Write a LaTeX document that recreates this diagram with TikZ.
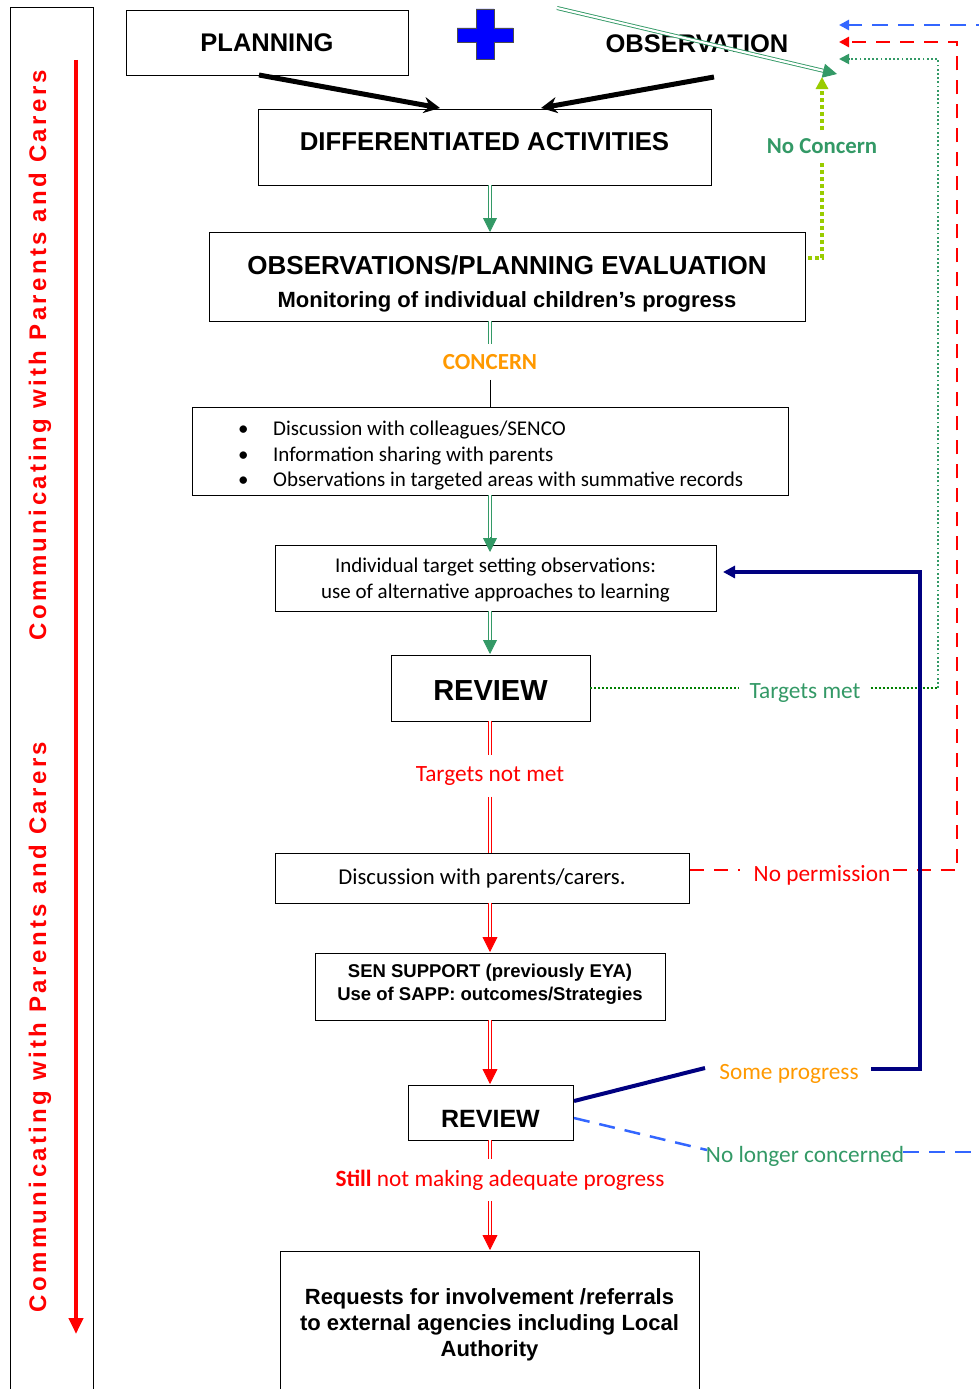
\documentclass[tikz,border=0pt]{standalone}
\usepackage{fontspec}
\setmainfont{Liberation Sans}
\newfontfamily\calfont{Carlito}
\newfontfamily\sidefont[LetterSpace=14]{Liberation Sans}
\usetikzlibrary{arrows.meta,calc}
\definecolor{sgreen}{RGB}{51,153,102}
\definecolor{dgreen}{RGB}{0,128,0}
\definecolor{ygreen}{RGB}{153,204,0}
\definecolor{orng}{RGB}{255,153,0}
\definecolor{navyb}{RGB}{0,0,128}
\definecolor{bluedash}{RGB}{51,102,255}
\definecolor{pureblue}{RGB}{0,0,255}
\tikzset{
 box/.style={draw, line width=0.8pt, inner sep=2pt, align=center, outer sep=0pt},
 txt/.style={inner sep=0pt, align=center},
 lbl/.style={inner xsep=3pt, inner ysep=2pt, font=\calfont\fontsize{23.3}{27}\selectfont},
 dblg/.style={draw=sgreen, double=white, double distance=2.2pt, line width=0.9pt},
 dblr/.style={draw=red, double=white, double distance=2.2pt, line width=0.9pt},
 headg/.style={sgreen, line width=0.8pt, -{Triangle[length=14pt,width=14pt]}},
 headr/.style={red, line width=0.8pt, -{Triangle[length=15pt,width=15pt]}},
 smallhead/.style={-{Triangle[length=10pt,width=10pt]}},
 side/.style={rotate=90, text=red, font=\sidefont\fontsize{24}{28}\selectfont\bfseries},
}
\begin{document}
\begin{tikzpicture}[x=1pt,y=-1pt]
\useasboundingbox (0,0) rectangle (979,1389);
\coordinate (xc) at (490,0);
% left panel
\draw[line width=0.8pt] (10,1400) -- (10,7) -- (93,7) -- (93,1400);
\coordinate (rtop) at (76,60);
\coordinate (rbot) at (76,1334);
\draw[red, line width=4pt, -{Triangle[length=16pt,width=14pt]}] (rtop) -- (rbot);
\node[side] (side1) at (40,355) {Communicating with Parents and Carers};
\node[side] (side2) at (40,1027) {Communicating with Parents and Carers};
% boxes
\node[box, minimum width=282pt, minimum height=65pt, font=\fontsize{25.5}{30}\selectfont\bfseries] (plan) at (267,42.5) {PLANNING};
\node[font=\fontsize{25.5}{30}\selectfont\bfseries, inner sep=0pt] (obstxt) at (697,44) {OBSERVATION};
\fill[pureblue, draw=black!70, line width=0.8pt] (476,9) -- (494,9) -- (494,28) -- (513,28) -- (513,42) -- (494,42) -- (494,59) -- (476,59) -- (476,42) -- (457,42) -- (457,28) -- (476,28) -- cycle;
\node[box, minimum width=453pt, minimum height=76pt] (diff) at (484.5,147) {};
\node[txt, font=\fontsize{25.8}{30}\selectfont\bfseries] (difftxt) at (484.5,142) {DIFFERENTIATED ACTIVITIES};
\node[box, minimum width=596pt, minimum height=89pt] (obs) at (507,276.5) {};
\node[txt, font=\fontsize{22}{33}\selectfont\bfseries] (obstext) at (507,284) {{\fontsize{26}{30}\selectfont OBSERVATIONS/PLANNING EVALUATION}\\Monitoring of individual children’s progress};
\node[box, minimum width=596pt, minimum height=88pt] (bul) at (490,451) {};
\node[anchor=west, align=left, inner sep=0pt, font=\calfont\fontsize{21}{25.5}\selectfont] (bultxt) at (238,456) {\makebox[35pt][l]{\textbullet}Discussion with colleagues/SENCO\\\makebox[35pt][l]{\textbullet}Information sharing with parents\\\makebox[35pt][l]{\textbullet}Observations in targeted areas with summative records};
\node[box, minimum width=441pt, minimum height=66pt] (itgt) at (495.5,578) {};
\node[txt, font=\calfont\fontsize{21}{26}\selectfont] (itgttxt) at (495.5,580) {Individual target setting observations:\\use of alternative approaches to learning};
\node[box, minimum width=199pt, minimum height=66pt] (rev1) at (490.5,688) {};
\node[txt, font=\fontsize{29}{34}\selectfont\bfseries] (rev1txt) at (490.5,691) {REVIEW};
\node[box, minimum width=414pt, minimum height=50pt, font=\calfont\fontsize{22.7}{26}\selectfont] (disc) at (482,878) {Discussion with parents/carers.};
\node[box, minimum width=350pt, minimum height=67pt] (sen) at (490,986.5) {};
\node[txt, font=\fontsize{18.5}{23}\selectfont\bfseries] (sentxt) at (490,984.5) {SEN SUPPORT (previously EYA)\\Use of SAPP: outcomes/Strategies};
\node[box, minimum width=165pt, minimum height=55pt] (rev2) at (490.5,1112.5) {};
\node[txt, font=\fontsize{25}{30}\selectfont\bfseries] (rev2txt) at (490.5,1119) {REVIEW};
\node[box, minimum width=419pt, minimum height=142pt] (req) at (489.5,1322) {};
\node[txt, font=\fontsize{22}{26}\selectfont\bfseries] (reqtxt) at (489.5,1325) {Requests for involvement /referrals\\to external agencies including Local\\Authority};
% labels
\node[lbl, text=sgreen, font=\calfont\fontsize{22.8}{26}\selectfont\bfseries, inner ysep=8pt] (noconc) at (822,146) {No Concern};
\node[lbl, text=orng, font=\calfont\fontsize{23}{26}\selectfont\bfseries, inner ysep=10pt] (concern) at (490,362) {CONCERN};
\node[lbl, text=sgreen, inner xsep=10pt] (tmet) at (805,693) {Targets met};
\node[lbl, text=red, inner ysep=11pt] (tnmet) at (490,776) {Targets not met};
\node[lbl, text=red, inner xsep=2pt] (noperm) at (822,875) {No permission};
\node[lbl, text=orng, inner xsep=12pt] (somep) at (789,1074) {Some progress};
\node[lbl, text=sgreen, inner xsep=1pt] (nolong) at (805,1156) {No longer concerned};
\node[lbl, text=red, inner ysep=11pt] (still) at (500,1180) {\textbf{Still} not making adequate progress};
% coordinates
\coordinate (pl1) at (259,75);
\coordinate (dl1) at (440,108);
\coordinate (pr1) at (714,77);
\coordinate (dr1) at (541,108);
\coordinate (gs) at (557,8);
\coordinate (ge) at (837,74);
\coordinate (nc0) at (808,258);
\coordinate (ncc) at (822,258);
\coordinate (nctip) at (822,77);
\coordinate (tmc) at (938,688);
\coordinate (tmt) at (938,59);
\coordinate (tmtip) at (839,59);
\coordinate (np0) at (690,870);
\coordinate (npc) at (957,870);
\coordinate (npt) at (957,42);
\coordinate (nptip) at (839,42);
\coordinate (sp0) at (574,1101);
\coordinate (sp1) at (705,1068);
\coordinate (sp2) at (871,1069);
\coordinate (spc) at (920,1069);
\coordinate (spt) at (920,572);
\coordinate (sptip) at (723,572);
\coordinate (nl0) at (574,1118);
\coordinate (nl1) at (707,1150);
\coordinate (nl2) at (903,1152);
\coordinate (nlc) at (995,1152);
\coordinate (nlt) at (995,25);
\coordinate (nltip) at (839,25);
% black arrows
\draw[line width=5pt, -{Stealth[length=16pt,width=16pt]}] (pl1) -- (dl1);
\draw[line width=5pt, -{Stealth[length=16pt,width=16pt]}] (pr1) -- (dr1);
% observation green arrow
\draw[dblg, shorten >=13pt] (gs) -- (ge);
\draw[headg] ($(gs)!0.95!(ge)$) -- (ge);
% no concern
\draw[ygreen, line width=4pt, dash pattern=on 4pt off 3pt] (nc0) -- (ncc) -- (noconc.south);
\draw[ygreen, line width=4pt, dash pattern=on 4pt off 3pt, -{Triangle[length=12pt,width=12pt]}] (noconc.north) -- (nctip);
% vertical flow
\draw[dblg, shorten >=12pt] (diff.south -| xc) -- (obs.north -| xc);
\draw[headg] ($(obs.north -| xc)+(0,-14)$) -- (obs.north -| xc);
\draw[dblg] (obs.south -| xc) -- (concern.north);
\draw[line width=1pt] (concern.south) -- (bul.north -| xc);
\draw[dblg] (bul.south -| xc) -- ($(itgt.north -| xc)+(0,-6)$);
\draw[headg] ($(itgt.north -| xc)+(0,-8)$) -- ($(itgt.north -| xc)+(0,7)$);
\draw[dblg] (itgt.south -| xc) -- ($(rev1.north -| xc)+(0,-12)$);
\draw[headg] ($(rev1.north -| xc)+(0,-15)$) -- ($(rev1.north -| xc)+(0,-1)$);
\draw[dblr] (rev1.south -| xc) -- (tnmet.north);
\draw[dblr] (tnmet.south) -- (disc.north -| xc);
\draw[dblr] (disc.south -| xc) -- ($(sen.north -| xc)+(0,-12)$);
\draw[headr] ($(sen.north -| xc)+(0,-16)$) -- ($(sen.north -| xc)+(0,-1)$);
\draw[dblr] (sen.south -| xc) -- ($(rev2.north -| xc)+(0,-12)$);
\draw[headr] ($(rev2.north -| xc)+(0,-16)$) -- ($(rev2.north -| xc)+(0,-1)$);
\draw[dblr] (rev2.south -| xc) -- (still.north -| xc);
\draw[dblr] (still.south -| xc) -- ($(req.north -| xc)+(0,-12)$);
\draw[headr] ($(req.north -| xc)+(0,-16)$) -- ($(req.north -| xc)+(0,-1)$);
% targets met
\draw[dgreen, line width=2pt, dash pattern=on 2pt off 2pt] (rev1.east) -- (tmet.west |- rev1.east);
\draw[dgreen, line width=2pt, dash pattern=on 2pt off 2pt] (tmet.east |- tmc) -- (tmc);
\draw[sgreen, line width=1.8pt, dash pattern=on 1.8pt off 2.4pt, smallhead] (tmc) -- (tmt) -- (tmtip);
% no permission
\draw[red, line width=2.5pt, dash pattern=on 14pt off 10pt] (np0) -- ($(noperm.west |- np0)+(-12,0)$);
\draw[red, line width=2.5pt, dash pattern=on 14pt off 10pt, smallhead] (noperm.east |- np0) -- (npc) -- (npt) -- (nptip);
% some progress
\draw[navyb, line width=4pt] (sp0) -- (sp1);
\draw[navyb, line width=4pt, -{Triangle[length=12pt,width=12pt]}] (sp2) -- (spc) -- (spt) -- (sptip);
% no longer concerned
\draw[bluedash, line width=2.5pt, dash pattern=on 16pt off 10pt] (nl0) -- (nl1);
\draw[bluedash, line width=2.5pt, dash pattern=on 16pt off 10pt, smallhead] (nl2) -- (nlc) -- (nlt) -- (nltip);
\end{tikzpicture}
\end{document}
